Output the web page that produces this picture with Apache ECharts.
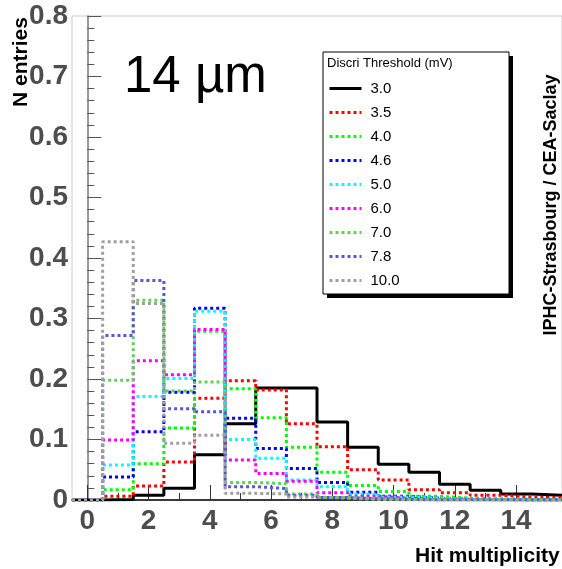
<!DOCTYPE html>
<html>
<head>
<meta charset="utf-8">
<script src="https://cdn.jsdelivr.net/npm/echarts@6/dist/echarts.min.js"></script>
<style>
html,body{margin:0;padding:0;background:#fff;}
#chart{width:562px;height:569px;}
</style>
</head>
<body>
<div id="chart"></div>
<script>
// Hit multiplicity bins (bin centres)
const bins = [0,1,2,3,4,5,6,7,8,9,10,11,12,13,14,15];
const xMajorTicks = [0,2,4,6,8,10,12,14];
const xMinorTicks = [1,3,5,7,9,11,13,15];
const thresholds = ['3.0','3.5','4.0','4.6','5.0','6.0','7.0','7.8','10.0'];
const legendTitle = 'Discri Threshold (mV)';

// Normalised entries per bin, one array per threshold
const h30  = [0, 0.001, 0.008, 0.0195, 0.075, 0.126, 0.185, 0.185, 0.129, 0.087, 0.059, 0.046, 0.026, 0.016, 0.010, 0.008];
const h35  = [0, 0.006, 0.023, 0.063, 0.168, 0.197, 0.182, 0.126, 0.088, 0.050, 0.033, 0.017, 0.012, 0.008, 0.005, 0.004];
const h40  = [0, 0.017, 0.060, 0.119, 0.279, 0.184, 0.136, 0.087, 0.046, 0.024, 0.014, 0.006, 0.003, 0.002, 0.001, 0.001];
const h46  = [0, 0.038, 0.113, 0.178, 0.317, 0.135, 0.085, 0.052, 0.029, 0.013, 0.006, 0.003, 0.001, 0.001, 0, 0];
const h50  = [0, 0.058, 0.171, 0.201, 0.312, 0.100, 0.069, 0.033, 0.022, 0.010, 0.005, 0.003, 0.001, 0.001, 0, 0];
const h60  = [0, 0.099, 0.230, 0.207, 0.282, 0.066, 0.044, 0.031, 0.012, 0.006, 0.003, 0.001, 0.001, 0, 0, 0];
const h70  = [0, 0.198, 0.330, 0.180, 0.195, 0.029, 0.027, 0.010, 0.004, 0.002, 0.001, 0, 0, 0, 0, 0];
const h78  = [0, 0.272, 0.363, 0.151, 0.146, 0.022, 0.019, 0.008, 0.004, 0.002, 0.001, 0, 0, 0, 0, 0];
const h100 = [0, 0.427, 0.325, 0.094, 0.107, 0.011, 0.010, 0.005, 0.003, 0.001, 0, 0, 0, 0, 0, 0];

const hists = [h30, h35, h40, h46, h50, h60, h70, h78, h100];
const colors = ['#000000','#ff0000','#00ff00','#0000ff','#00ffff','#ff00ff','#59d454','#5954d9','#a0a0a0'];

const FONT = '"Liberation Sans", Arial, Helvetica, sans-serif';

function stepData(h) {
  const d = bins.map((b, k) => [b - 0.5, h[k]]);
  d.push([bins[bins.length - 1] + 0.5, h[h.length - 1]]);
  return d;
}

const series = thresholds.map((t, i) => ({
  type: 'line',
  name: t,
  step: 'end',
  symbol: 'none',
  showSymbol: false,
  data: stepData(hists[i]),
  xAxisIndex: 0,
  yAxisIndex: 0,
  lineStyle: {
    color: colors[i],
    width: 3,
    type: i === 0 ? 'solid' : [3, 3],
    cap: 'butt'
  },
  itemStyle: { color: colors[i] },
  animation: false,
  silent: true
}));

const chart = echarts.init(document.getElementById('chart'), null, { renderer: 'canvas' });
chart.setOption({
  animation: false,
  backgroundColor: '#ffffff',
  grid: {
    left: 72, top: 16, width: 496, height: 484,
    show: true, borderColor: '#cccccc', borderWidth: 1, backgroundColor: 'transparent'
  },
  xAxis: [
    {
      type: 'value', min: -0.5, max: 15.5, position: 'bottom',
      axisLine: { show: true, onZero: false, lineStyle: { color: '#000', width: 1.5 } },
      axisTick: { show: true, inside: true, length: 15, customValues: xMajorTicks, lineStyle: { color: '#333', width: 1 } },
      axisLabel: {
        show: true, customValues: xMajorTicks, margin: 7,
        fontSize: 28, fontWeight: 'bold', color: '#4d4d4d', fontFamily: FONT
      },
      splitLine: { show: false }
    },
    {
      type: 'value', min: -0.5, max: 15.5, position: 'bottom', offset: 0,
      axisLine: { show: false },
      axisTick: { show: true, inside: true, length: 7, customValues: xMinorTicks, lineStyle: { color: '#333', width: 1 } },
      axisLabel: { show: false },
      splitLine: { show: false }
    }
  ],
  yAxis: {
    type: 'value', min: 0, max: 0.8, interval: 0.1,
    axisLine: { show: true, lineStyle: { color: '#777', width: 1.5 } },
    axisTick: { show: true, inside: true, length: 14, lineStyle: { color: '#555', width: 1 } },
    minorTick: { show: true, splitNumber: 5, length: 7, lineStyle: { color: '#555', width: 1 } },
    axisLabel: { margin: 4, fontSize: 28, fontWeight: 'bold', color: '#4d4d4d', fontFamily: FONT },
    splitLine: { show: false }
  },
  legend: {
    data: thresholds,
    orient: 'vertical',
    left: 328, top: 81,
    padding: 0,
    itemWidth: 32, itemHeight: 14, itemGap: 9,
    selectedMode: false,
    z: 10,
    itemStyle: { color: 'transparent', borderColor: 'transparent', borderWidth: 0, opacity: 0 },
    lineStyle: { width: 3 },
    textStyle: { fontSize: 15, color: '#000', fontFamily: FONT, padding: [0, 0, 0, 4] }
  },
  graphic: [
    { type: 'rect', z: 5, shape: { x: 327, y: 56, width: 186, height: 242 }, style: { fill: '#000' } },
    { type: 'rect', z: 5, shape: { x: 323, y: 52, width: 186, height: 242 }, style: { fill: '#fff', stroke: '#000', lineWidth: 1 } },
    { type: 'text', z: 6, x: 327, y: 63, style: { text: legendTitle, fontSize: 13, fill: '#000', fontFamily: FONT, verticalAlign: 'middle', align: 'left' } },
    { type: 'text', z: 6, x: 124, y: 78, style: { text: '14 µm', fontSize: 51, fill: '#000', fontFamily: FONT, verticalAlign: 'middle', align: 'left' } },
    { type: 'text', z: 6, x: 21, y: 62, rotation: Math.PI / 2, style: { text: 'N entries', fontSize: 21, fontWeight: 'bold', fill: '#000', fontFamily: FONT, verticalAlign: 'middle', align: 'center' } },
    { type: 'text', z: 6, x: 551, y: 205, rotation: Math.PI / 2, style: { text: 'IPHC-Strasbourg / CEA-Saclay', fontSize: 18, fontWeight: 'bold', fill: '#000', fontFamily: FONT, verticalAlign: 'middle', align: 'center' } },
    { type: 'text', z: 6, x: 415, y: 556, style: { text: 'Hit multiplicity', fontSize: 21, fontWeight: 'bold', fill: '#000', fontFamily: FONT, verticalAlign: 'middle', align: 'left' } }
  ],
  series: series
});
</script>
</body>
</html>
